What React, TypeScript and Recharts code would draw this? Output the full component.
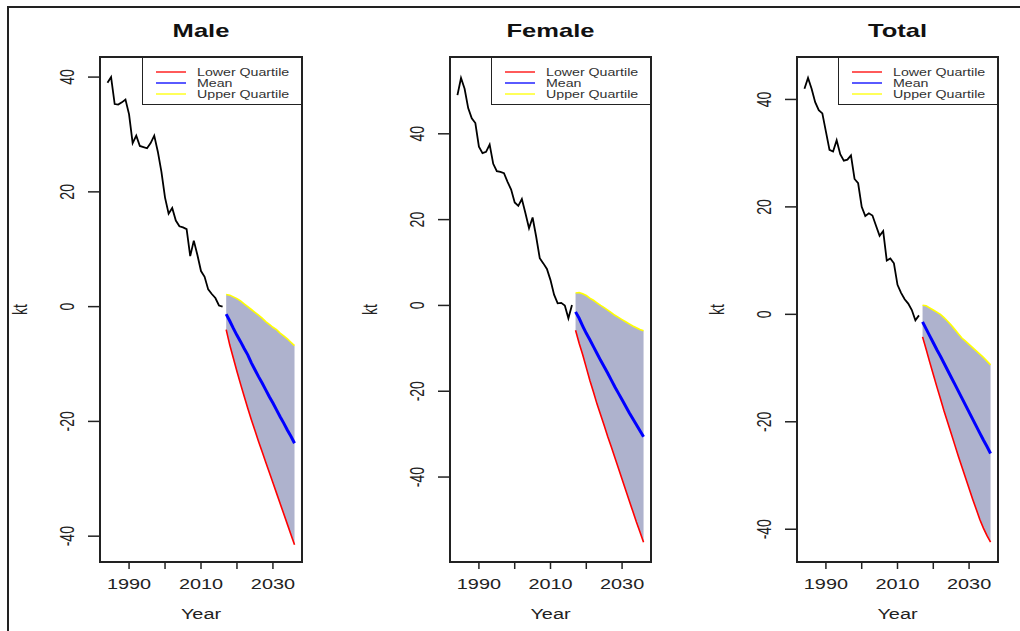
import { ComposedChart, Line, Area, XAxis, YAxis, ReferenceArea } from 'recharts'

const FONT = '"Liberation Sans", Arial, Helvetica, sans-serif'
// the source picture is stretched sideways, so text is widened to match
const STRETCH = 1.42

const histYears = [
  1984, 1985, 1986, 1987, 1988, 1989, 1990, 1991, 1992, 1993, 1994, 1995, 1996, 1997, 1998, 1999, 2000,
  2001, 2002, 2003, 2004, 2005, 2006, 2007, 2008, 2009, 2010, 2011, 2012, 2013, 2014, 2015, 2016,
]
const forecastYears = [
  2017, 2018, 2019, 2020, 2021, 2022, 2023, 2024, 2025, 2026, 2027, 2028, 2029, 2030, 2031, 2032, 2033,
  2034, 2035, 2036,
]

const maleHist = [
  39.0, 40.0, 35.3, 35.2, 35.6, 36.1, 33.5, 28.5, 29.8, 28.0, 27.8, 27.6, 28.5, 29.8, 27.0, 23.5, 19.0,
  16.2, 17.2, 15.0, 14.0, 13.8, 13.5, 8.8, 11.5, 9.0, 6.2, 5.2, 3.0, 2.2, 1.5, 0.2, 0.0,
]
const maleLower = [
  -4.0, -6.7, -9.0, -11.3, -13.5, -15.6, -17.7, -19.7, -21.6, -23.5, -25.3, -27.1, -28.9, -30.7, -32.5,
  -34.3, -36.1, -37.9, -39.7, -41.5,
]
const maleMean = [
  -1.3, -2.5, -3.8, -5.0, -6.1, -7.3, -8.4, -9.8, -11.0, -12.2, -13.3, -14.5, -15.7, -16.8, -18.0, -19.2,
  -20.3, -21.5, -22.6, -23.8,
]
const maleUpper = [
  2.1, 2.0, 1.7, 1.4, 1.0, 0.5, 0.0, -0.5, -1.0, -1.5, -2.0, -2.6, -3.1, -3.6, -4.0, -4.6, -5.1, -5.6,
  -6.2, -6.8,
]

const femaleHist = [
  49.0, 53.0, 50.5, 46.0, 43.6, 42.5, 37.0, 35.5, 35.8, 37.5, 33.0, 31.3, 31.1, 30.8, 28.8, 27.0, 24.0,
  23.2, 24.8, 21.5, 18.0, 20.5, 16.0, 11.0, 9.8, 8.5, 5.9, 2.5, 0.5, 0.6, 0.0, -3.0, 0.1,
]
const femaleLower = [
  -5.8, -8.8, -11.5, -14.5, -17.5, -20.2, -23.0, -25.5, -28.0, -30.6, -33.0, -35.5, -38.0, -40.5, -43.0,
  -45.5, -48.0, -50.5, -52.8, -55.2,
]
const femaleMean = [
  -1.5, -3.0, -4.8, -6.5, -8.0, -9.6, -11.2, -12.8, -14.3, -15.8, -17.4, -19.0, -20.5, -22.0, -23.5, -25.0,
  -26.4, -27.8, -29.2, -30.6,
]
const femaleUpper = [
  2.9, 3.0, 2.7, 2.3, 1.7, 1.2, 0.6, 0.0, -0.5, -1.1, -1.7, -2.3, -2.8, -3.3, -3.8, -4.3, -4.8, -5.2,
  -5.6, -5.9,
]

const totalHist = [
  42.0, 44.0, 42.0, 39.5, 38.0, 37.4, 34.0, 30.6, 30.3, 32.4, 29.8, 28.6, 28.8, 29.6, 25.2, 24.4, 20.0,
  18.3, 18.8, 18.4, 16.5, 14.6, 15.5, 10.0, 10.4, 9.5, 5.5, 4.0, 2.8, 2.0, 0.8, -1.1, -0.2,
]
const totalLower = [
  -4.2, -6.5, -8.9, -11.2, -13.5, -15.7, -18.0, -20.1, -22.2, -24.3, -26.4, -28.4, -30.4, -32.4, -34.4,
  -36.3, -38.2, -39.8, -41.2, -42.4,
]
const totalMean = [
  -1.4, -2.7, -4.0, -5.3, -6.6, -7.8, -9.1, -10.4, -11.7, -13.0, -14.3, -15.6, -16.9, -18.2, -19.5, -20.8,
  -22.1, -23.4, -24.6, -25.9,
]
const totalUpper = [
  1.7, 1.6, 1.2, 0.8, 0.4, 0.0, -0.6, -1.3, -2.0, -2.8, -3.6, -4.4, -5.0, -5.6, -6.2, -6.8, -7.4, -8.0,
  -8.7, -9.4,
]

const xDomain = [1981.92, 2038.08]
const xTicks = [1990, 2000, 2010, 2020, 2030]
const xLabels = [1990, 2010, 2030]
const yTicks = [-40, -20, 0, 20, 40]

const legendNames = ['Lower Quartile', 'Mean', 'Upper Quartile']
const legendColors = ['#ff0000', '#0000ff', '#ffff00']

const BAND = '#aeb2cd'
const INK = '#222'
const HEIGHT = 631
const PLOT_LEFT = 100
const PLOT_TOP = 57
const PLOT_BOTTOM = 562

function buildRows(hist: number[], lower: number[], mean: number[], upper: number[]) {
  const rows: any[] = histYears.map((year, i) => ({ year, hist: hist[i] }))
  forecastYears.forEach((year, i) => {
    rows.push({ year, lower: lower[i], mean: mean[i], upper: upper[i], band: [lower[i], upper[i]] })
  })
  return rows
}

const renderXTick = (props: any) => {
  const { x, y, payload } = props
  if (!xLabels.includes(payload.value)) return <g />
  return (
    <text
      transform={`translate(${x},${y + 20}) scale(${STRETCH},1)`}
      textAnchor="middle"
      fontSize={14}
      fontFamily={FONT}
      fill={INK}
    >
      {payload.value}
    </text>
  )
}

const renderYTick = (props: any) => {
  const { x, y, payload } = props
  return (
    <text
      transform={`translate(${x - 14},${y}) scale(${STRETCH},1) rotate(-90)`}
      textAnchor="middle"
      fontSize={14}
      fontFamily={FONT}
      fill={INK}
    >
      {payload.value}
    </text>
  )
}

function Panel({
  title,
  left,
  width,
  plotRight,
  rows,
  yDomain,
}: {
  title: string
  left: number
  width: number
  plotRight: number
  rows: any[]
  yDomain: number[]
}) {
  const centerX = (PLOT_LEFT + plotRight) / 2
  const centerY = (PLOT_TOP + PLOT_BOTTOM) / 2

  return (
    <div style={{ position: 'absolute', left, top: 0, width, height: HEIGHT }}>
      <ComposedChart
        width={width}
        height={HEIGHT}
        data={rows}
        margin={{ top: PLOT_TOP, right: width - plotRight, bottom: HEIGHT - PLOT_BOTTOM - 30, left: 40 }}
      >
        <XAxis
          type="number"
          dataKey="year"
          domain={xDomain}
          ticks={xTicks}
          interval={0}
          allowDataOverflow
          axisLine={false}
          tickSize={7}
          tickMargin={0}
          tickLine={{ stroke: INK, strokeWidth: 1.5 }}
          tick={renderXTick}
          height={30}
          label={() => (
            <text
              transform={`translate(${centerX},${PLOT_BOTTOM + 57}) scale(${STRETCH},1)`}
              textAnchor="middle"
              fontSize={14}
              fontFamily={FONT}
              fill={INK}
            >
              Year
            </text>
          )}
        />
        <YAxis
          type="number"
          domain={yDomain}
          ticks={yTicks}
          interval={0}
          allowDataOverflow
          axisLine={false}
          tickSize={12}
          tickMargin={0}
          tickLine={{ stroke: INK, strokeWidth: 1.5 }}
          tick={renderYTick}
          width={60}
          label={() => (
            <text
              transform={`translate(${PLOT_LEFT - 73},${centerY}) scale(${STRETCH},1) rotate(-90)`}
              textAnchor="middle"
              fontSize={14}
              fontFamily={FONT}
              fill={INK}
            >
              kt
            </text>
          )}
        />
        <Area dataKey="band" fill={BAND} fillOpacity={1} stroke="none" isAnimationActive={false} />
        <Line dataKey="hist" stroke="#000" strokeWidth={1.8} dot={false} isAnimationActive={false} />
        <Line dataKey="lower" stroke={legendColors[0]} strokeWidth={1.6} dot={false} isAnimationActive={false} />
        <Line dataKey="upper" stroke={legendColors[2]} strokeWidth={1.6} dot={false} isAnimationActive={false} />
        <Line dataKey="mean" stroke={legendColors[1]} strokeWidth={3} dot={false} isAnimationActive={false} />
        <ReferenceArea
          x1={xDomain[0]}
          x2={xDomain[1]}
          y1={yDomain[0]}
          y2={yDomain[1]}
          fill="none"
          fillOpacity={0}
          stroke={INK}
          strokeWidth={2}
          ifOverflow="visible"
        />
      </ComposedChart>

      <svg width={width} height={50} style={{ position: 'absolute', left: 0, top: 0 }}>
        <text
          transform={`translate(${centerX},37) scale(${STRETCH},1)`}
          textAnchor="middle"
          fontSize={18}
          fontWeight="bold"
          fontFamily={FONT}
          fill="#111"
        >
          {title}
        </text>
      </svg>

      <div
        style={{
          position: 'absolute',
          left: plotRight - 160,
          top: PLOT_TOP,
          width: 160,
          height: 48,
          background: '#fff',
          border: `1.5px solid ${INK}`,
          boxSizing: 'border-box',
        }}
      >
        <svg width={160} height={48} style={{ position: 'absolute', left: -1.5, top: -1.5 }}>
          {legendNames.map((name, i) => (
            <g key={name}>
              <line x1={14} x2={44} y1={15 + i * 11} y2={15 + i * 11} stroke={legendColors[i]} strokeWidth={1.3} />
              <text
                transform={`translate(55,${18.6 + i * 11}) scale(${STRETCH},1)`}
                fontSize={10}
                fontFamily={FONT}
                fill="#333"
              >
                {name}
              </text>
            </g>
          ))}
        </svg>
      </div>
    </div>
  )
}

export default function App() {
  const male = buildRows(maleHist, maleLower, maleMean, maleUpper)
  const female = buildRows(femaleHist, femaleLower, femaleMean, femaleUpper)
  const total = buildRows(totalHist, totalLower, totalMean, totalUpper)

  return (
    <div style={{ position: 'absolute', left: 0, top: 0, width: 1020, height: HEIGHT, background: '#fff', overflow: 'hidden' }}>
      <div
        style={{
          position: 'absolute',
          left: 7,
          top: 6,
          width: 1030,
          height: 640,
          borderTop: `2px solid ${INK}`,
          borderLeft: `2px solid ${INK}`,
        }}
      />
      <Panel title="Male" left={0} width={340} plotRight={302} rows={male} yDomain={[-44.5, 43.5]} />
      <Panel title="Female" left={350} width={340} plotRight={301} rows={female} yDomain={[-59.8, 57.9]} />
      <Panel title="Total" left={697} width={323} plotRight={301} rows={total} yDomain={[-46.1, 47.9]} />
    </div>
  )
}
